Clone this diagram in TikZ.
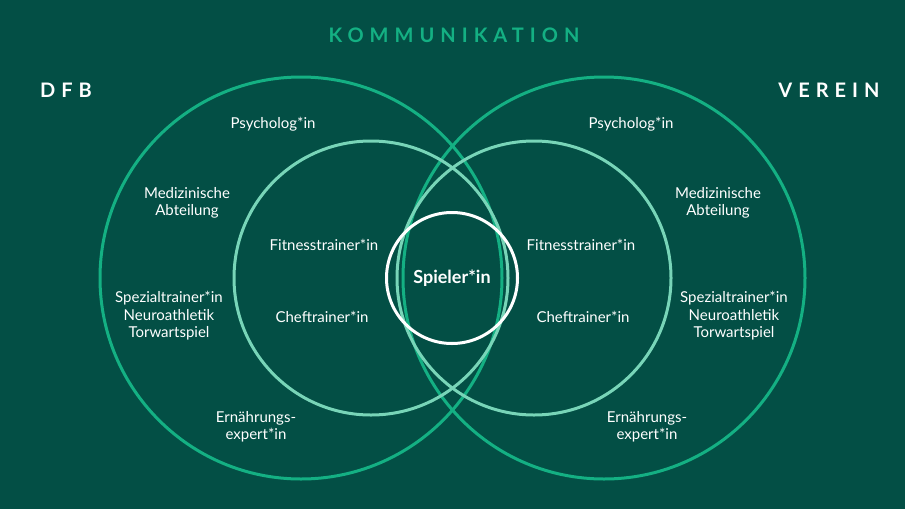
\documentclass[tikz,border=0pt]{standalone}
\usepackage{fontspec}
\setmainfont{Lato}
\newfontfamily\headfont[LetterSpace=30]{Lato Bold}
\usetikzlibrary{positioning}
\definecolor{bgteal}{HTML}{034F45}
\definecolor{ringgreen}{HTML}{14B083}
\definecolor{ringmint}{HTML}{78D5B8}
\tikzstyle{every node}=[font=\fontsize{15}{17.5}\selectfont,text=white,align=center]
\tikzstyle{outer ring}=[circle,draw=ringgreen,line width=3pt,minimum size=402pt,inner sep=0pt]
\tikzstyle{inner ring}=[circle,draw=ringmint,line width=3pt,minimum size=274pt,inner sep=0pt]
\tikzstyle{core ring}=[circle,draw=white,line width=3pt,minimum size=131pt,inner sep=0pt]
\tikzstyle{heading}=[font=\fontsize{20}{20}\headfont]

\begin{document}
\begin{tikzpicture}[x=1pt,y=-1pt]
  \fill[bgteal] (0,0) rectangle (905,509);
  \useasboundingbox (0,0) rectangle (905,509);

  \node[outer ring]	(dfbring) at (301,278) {};
  \node[outer ring]	(vereinring) at (604,278) {};
  \node[inner ring]	(dfbinner) at (371,278) {};
  \node[inner ring]	(vereininner) at (534,278) {};
  \node[core ring]	(core) at (452,278) {};

  \node[heading,text=ringgreen]	(komm) at (454,35) {KOMMUNIKATION};
  \node[heading]	(dfb) at (66,90) {DFB};
  \node[heading]	(verein) at (829,90) {VEREIN};

  % DFB side
  \node (psyL) at (273,124) {Psycholog*in};
  \node (medL) at (187,203) {Medizinische\\Abteilung};
  \node (spezL) at (169,316) {Spezialtrainer*in\\Neuroathletik\\Torwartspiel};
  \node (ernL) at (256,427) {Ernährungs-\\expert*in};
  \node (fitL) at (324,245) {Fitnesstrainer*in};
  \node (chefL) at (322,317) {Cheftrainer*in};

  % Verein side
  \node (psyR) at (631,124) {Psycholog*in};
  \node (medR) at (718,203) {Medizinische\\Abteilung};
  \node (spezR) at (734,316) {Spezialtrainer*in\\Neuroathletik\\Torwartspiel};
  \node (ernR) at (647,427) {Ernährungs-\\expert*in};
  \node (fitR) at (581,245) {Fitnesstrainer*in};
  \node (chefR) at (583,317) {Cheftrainer*in};

  \node[font=\fontsize{18}{20}\bfseries\selectfont] (spieler) at (core) {Spieler*in};
\end{tikzpicture}
\end{document}
